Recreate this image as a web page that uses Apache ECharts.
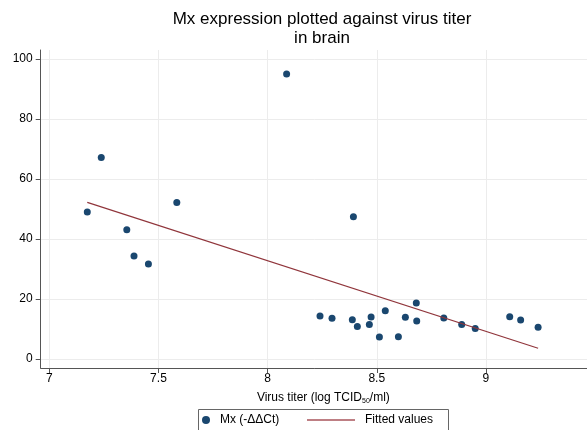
<!DOCTYPE html>
<html>
<head>
<meta charset="utf-8">
<script src="https://cdn.jsdelivr.net/npm/echarts@6/dist/echarts.min.js"></script>
<style>
html,body{margin:0;padding:0;background:#fff;}
#chart{width:587px;height:430px;}
</style>
</head>
<body>
<div id="chart"></div>
<script>
var titerX = [7.174, 7.238, 7.355, 7.388, 7.454, 7.584, 8.087, 8.393, 8.240, 8.295, 8.388, 8.411, 8.466, 8.474, 8.512, 8.539, 8.599, 8.631, 8.681, 8.683, 8.807, 8.889, 8.951, 9.109, 9.159, 9.239];
var mxY = [49.0, 67.2, 43.1, 34.3, 31.7, 52.2, 95.0, 47.4, 14.3, 13.6, 13.1, 10.8, 11.5, 14.0, 7.3, 16.1, 7.4, 13.9, 18.7, 12.7, 13.7, 11.5, 10.2, 14.1, 13.0, 10.6];
var fitX = [7.174, 9.239];
var fitY = [52.2, 3.6];
var xTicks = [7, 7.5, 8, 8.5, 9, 9.5];
var yTicks = [0, 20, 40, 60, 80, 100];
var titleText = 'Mx expression plotted against virus titer\nin brain';
var seriesNames = ['Mx (-ΔΔCt)', 'Fitted values'];

var scatterData = titerX.map(function (x, i) { return [x, mxY[i]]; });
var fitData = fitX.map(function (x, i) { return [x, fitY[i]]; });

var FONT = '"Liberation Sans", Arial, Helvetica, sans-serif';
var chart = echarts.init(document.getElementById('chart'), null, {renderer: 'canvas'});
chart.setOption({
  animation: false,
  backgroundColor: '#ffffff',
  textStyle: {fontFamily: FONT},
  title: {
    text: titleText,
    left: 322, top: 10, textAlign: 'center', padding: 0,
    textStyle: {fontFamily: FONT, fontSize: 17, fontWeight: 'normal', color: '#000', lineHeight: 19}
  },
  grid: {left: 40.7, top: 50, width: 565.3, height: 318, containLabel: false, outerBoundsMode: 'none'},
  xAxis: {
    type: 'value', min: 6.9606, max: 9.55,
    name: '{a|Virus titer (log TCID}{s|50}{a|/ml)}',
    nameLocation: 'middle', nameGap: 22,
    nameTextStyle: {
      rich: {
        a: {fontFamily: FONT, fontSize: 12, color: '#000'},
        s: {fontFamily: FONT, fontSize: 7, color: '#000', padding: [8, 0, 0, 0]}
      }
    },
    axisLine: {show: true, onZero: false, lineStyle: {color: '#555', width: 1}},
    axisTick: {show: true, length: 5, customValues: xTicks, lineStyle: {color: '#555'}},
    axisLabel: {customValues: xTicks, margin: 5, fontFamily: FONT, fontSize: 12, color: '#000'},
    splitLine: {show: true, lineStyle: {color: '#ececec', width: 1}}
  },
  yAxis: {
    type: 'value', min: -3, max: 103,
    axisLine: {show: true, onZero: false, lineStyle: {color: '#555', width: 1}},
    axisTick: {show: true, length: 5, customValues: yTicks, lineStyle: {color: '#555'}},
    axisLabel: {customValues: yTicks, margin: 8, fontFamily: FONT, fontSize: 12, color: '#000'},
    splitLine: {show: true, lineStyle: {color: '#ececec', width: 1}}
  },
  legend: [
    {
      data: [{name: seriesNames[0], icon: 'circle'}],
      left: 202, top: 414, padding: 0, itemWidth: 8, itemHeight: 8,
      textStyle: {fontFamily: FONT, fontSize: 12, color: '#000', padding: [0, 0, 0, 5]}
    },
    {
      data: [{name: seriesNames[1], icon: 'rect', itemStyle: {color: '#a8555b'}}],
      left: 307, top: 414, padding: 0, itemWidth: 48, itemHeight: 1.5,
      textStyle: {fontFamily: FONT, fontSize: 12, color: '#000', padding: [0, 0, 0, 5]}
    }
  ],
  graphic: [{
    type: 'rect', shape: {x: 198.5, y: 409.5, width: 250, height: 30},
    style: {fill: 'none', stroke: '#666', lineWidth: 1}, silent: true
  }],
  series: [
    {
      name: seriesNames[0], type: 'scatter', data: scatterData,
      symbol: 'circle', symbolSize: 7,
      itemStyle: {color: '#1a476f', opacity: 1}
    },
    {
      name: seriesNames[1], type: 'line', data: fitData,
      symbol: 'none', showSymbol: false,
      lineStyle: {color: '#90353b', width: 1.2},
      itemStyle: {color: '#90353b'}
    }
  ]
});
</script>
</body>
</html>
